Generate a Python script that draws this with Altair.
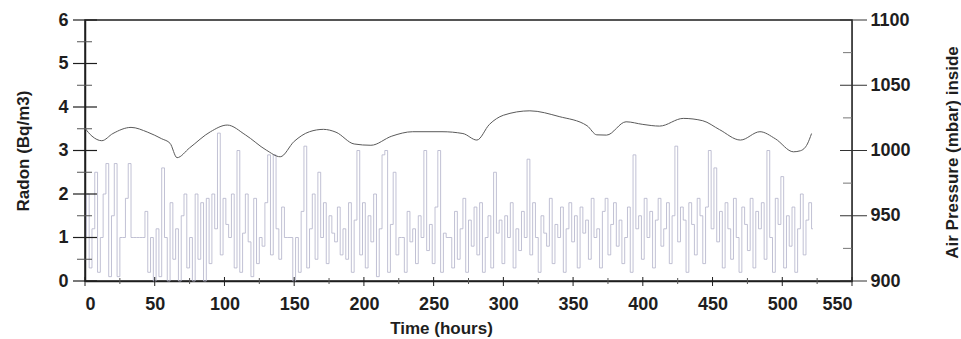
import altair as alt
import pandas as pd

# ---------------- data ----------------
RADON_T = list(range(0, 524, 2))  # hours
RADON = [
    1.0, 2.0, 0.3, 1.2, 2.5, 0.2, 1.0, 2.0, 2.7, 0.1,
    1.5, 2.7, 0.1, 1.0, 1.0, 1.9, 2.7, 1.0, 1.0, 1.0,
    1.0, 1.0, 1.6, 0.2, 1.0, 0.0, 1.2, 0.1, 2.6, 1.0,
    0.0, 1.8, 0.5, 1.2, 0.0, 1.5, 2.0, 0.3, 1.0, 0.0,
    2.0, 0.5, 1.8, 0.0, 1.9, 0.4, 2.0, 1.2, 3.4, 0.6,
    1.9, 1.3, 1.0, 2.0, 0.3, 3.0, 0.2, 1.1, 2.0, 0.9,
    0.1, 1.9, 0.4, 1.0, 0.8, 1.8, 2.9, 0.6, 2.9, 1.2,
    0.5, 1.7, 1.0, 1.0, 1.0, 0.0, 1.0, 0.2, 1.6, 3.1,
    0.3, 1.2, 2.0, 0.5, 2.5, 1.0, 1.8, 0.4, 1.5, 1.1,
    0.9, 1.7, 0.6, 1.2, 0.5, 1.8, 0.2, 1.4, 3.0, 0.6,
    1.8, 0.3, 1.5, 0.9, 2.0, 0.1, 1.2, 2.9, 3.0, 0.2,
    1.3, 2.5, 0.6, 1.0, 1.0, 0.2, 1.6, 0.9, 1.2, 0.4,
    1.5, 1.0, 3.0, 0.7, 1.3, 0.4, 1.7, 3.0, 0.2, 1.1,
    1.0, 1.0, 0.3, 1.6, 0.5, 1.2, 1.9, 0.2, 1.4, 0.8,
    1.7, 0.6, 1.8, 0.2, 1.0, 1.5, 0.3, 2.5, 1.1, 1.4,
    0.4, 1.5, 1.0, 1.8, 0.3, 1.2, 0.7, 1.6, 1.0, 2.8,
    0.6, 1.8, 1.0, 0.2, 1.5, 1.1, 0.8, 1.9, 0.4, 1.3,
    1.0, 1.7, 0.2, 1.2, 1.8, 0.9, 1.5, 0.3, 1.7, 1.1,
    1.4, 0.5, 1.9, 1.0, 1.2, 0.3, 1.6, 1.9, 0.6, 1.3,
    1.8, 0.8, 1.4, 0.4, 1.0, 1.7, 0.2, 2.9, 1.2, 1.5,
    0.5, 1.9, 1.0, 1.6, 0.3, 1.4, 1.9, 0.8, 1.2, 1.8,
    0.4, 1.5, 3.1, 0.9, 1.7, 1.4, 0.2, 1.8, 1.3, 0.6,
    1.9, 1.5, 0.4, 1.7, 3.0, 1.2, 2.6, 0.9, 1.6, 0.3,
    1.8, 1.2, 0.5, 1.9, 1.0, 0.2, 1.7, 1.3, 0.7, 1.9,
    0.3, 1.6, 1.2, 1.8, 0.5, 3.0, 1.0, 0.2, 1.9, 1.3,
    2.4, 0.3, 1.5, 0.8, 1.7, 0.2, 1.2, 2.0, 0.6, 1.4,
    1.8, 1.2,
]

PRESS_T = [0, 5, 12, 20, 33, 45, 55, 61, 66, 75, 90, 102, 115, 130, 140, 150,
           161, 171, 180, 193, 205, 220, 235, 256, 271, 281, 290, 300, 319, 340,
           360, 367, 374, 388, 400, 412, 429, 443, 455, 470, 484, 495, 508, 513,
           518, 521]
PRESS = [1017, 1011, 1007.5, 1013, 1017.7, 1014, 1009, 1005.5, 994.5, 1002,
         1014.4, 1019.5, 1012, 1000.3, 995.2, 1007, 1014.4, 1016.2, 1014, 1005,
         1004, 1011, 1014.4, 1014.4, 1013, 1008, 1020, 1027, 1030.4, 1026,
         1019, 1012, 1011.8, 1022, 1020, 1018.7, 1024.6, 1022.8, 1016, 1008,
         1014.4, 1009, 999, 999.8, 1005, 1013]

X_TICKS = list(range(0, 551, 50))
X_MINOR = list(range(25, 551, 50))
LEFT_TICKS = [0, 1, 2, 3, 4, 5, 6]
LEFT_MINOR = [0.5, 1.5, 2.5, 3.5, 4.5, 5.5]
RIGHT_TICKS = [900, 950, 1000, 1050, 1100]
RIGHT_MINOR = [925, 975, 1025, 1075]

# ---------------- layout / style ----------------
W, H = 767, 261
FONT = "Liberation Sans"
INK = "#1e1e1e"
LBL = 18

radon_df = pd.DataFrame({"t": RADON_T, "radon": RADON})
press_df = pd.DataFrame({"t": PRESS_T, "p": PRESS})

xscale = alt.Scale(domain=[0, 550], nice=False, zero=False)
yl_scale = alt.Scale(domain=[0, 6], nice=False)
yr_scale = alt.Scale(domain=[900, 1100], nice=False, zero=False)

x_axis = alt.Axis(values=X_TICKS, ticks=False, grid=False, labelPadding=14,
                  labelFontSize=LBL, labelFontWeight="bold", labelFont=FONT,
                  labelColor=INK, domainColor=INK, domainWidth=1.5, format="d",
                  title="Time (hours)", titleFont=FONT, titleFontSize=17,
                  titleFontWeight="bold", titleColor=INK,
                  titleX=356, titleY=47, titleBaseline="middle", titleAlign="center")

left_axis = alt.Axis(values=LEFT_TICKS, ticks=False, grid=False, format="d",
                     labelPadding=17, labelFontSize=LBL, labelFontWeight="bold",
                     labelFont=FONT, labelColor=INK, domainColor=INK,
                     domainWidth=1.5, title="Radon (Bq/m3)", titleFont=FONT,
                     titleFontSize=17, titleFontWeight="bold", titleColor=INK,
                     titleAngle=270, titleX=-62, titleY=H / 2,
                     titleBaseline="middle", titleAlign="center")

right_axis = alt.Axis(orient="right", values=RIGHT_TICKS, ticks=False, grid=False,
                      format="d",
                      labelPadding=18, labelFontSize=LBL, labelFontWeight="bold",
                      labelFont=FONT, labelColor=INK, domainColor="#444",
                      domainWidth=1, title="Air Pressure (mbar) inside",
                      titleFont=FONT, titleFontSize=17, titleFontWeight="bold",
                      titleColor=INK, titleAngle=270, titleX=100, titleY=132,
                      titleBaseline="middle", titleAlign="center")

radon_line = alt.Chart(radon_df).mark_line(
    color="#b2b2ca", strokeWidth=0.85, opacity=0.95, interpolate="step"
).encode(
    x=alt.X("t:Q", scale=xscale, axis=x_axis),
    y=alt.Y("radon:Q", scale=yl_scale, axis=left_axis),
)

left_major = alt.Chart(pd.DataFrame({"radon": LEFT_TICKS})).mark_rule(
    color=INK, strokeWidth=1.2).encode(
    y=alt.Y("radon:Q", scale=yl_scale, axis=left_axis),
    x=alt.value(-12), x2=alt.value(12))
left_minor = alt.Chart(pd.DataFrame({"radon": LEFT_MINOR})).mark_rule(
    color="#555", strokeWidth=1).encode(
    y=alt.Y("radon:Q", scale=yl_scale, axis=left_axis),
    x=alt.value(-8), x2=alt.value(7))
x_major = alt.Chart(pd.DataFrame({"t": X_TICKS})).mark_rule(
    color=INK, strokeWidth=1).encode(
    x=alt.X("t:Q", scale=xscale, axis=x_axis),
    y=alt.value(H - 4), y2=alt.value(H + 5))
x_minor = alt.Chart(pd.DataFrame({"t": X_MINOR})).mark_rule(
    color="#555", strokeWidth=1).encode(
    x=alt.X("t:Q", scale=xscale, axis=x_axis),
    y=alt.value(H - 3), y2=alt.value(H + 3))

left = alt.layer(radon_line, left_major, left_minor, x_major, x_minor)

press_line = alt.Chart(press_df).mark_line(
    color="#5a5a5a", strokeWidth=1, interpolate="monotone"
).encode(
    x=alt.X("t:Q", scale=xscale, axis=x_axis),
    y=alt.Y("p:Q", scale=yr_scale, axis=right_axis),
)
right_major = alt.Chart(pd.DataFrame({"p": RIGHT_TICKS})).mark_rule(
    color="#333", strokeWidth=1).encode(
    y=alt.Y("p:Q", scale=yr_scale, axis=right_axis),
    x=alt.value(W - 12), x2=alt.value(W + 15))
right_minor = alt.Chart(pd.DataFrame({"p": RIGHT_MINOR})).mark_rule(
    color="#777", strokeWidth=1).encode(
    y=alt.Y("p:Q", scale=yr_scale, axis=right_axis),
    x=alt.value(W - 9), x2=alt.value(W))

right = alt.layer(press_line, right_major, right_minor)

chart = alt.layer(left, right).resolve_scale(y="independent").properties(
    width=W, height=H,
    autosize=alt.AutoSizeParams(type="none"),
    padding={"left": 85, "top": 20, "right": 109, "bottom": 58},
    background="white",
).configure_view(stroke=INK, strokeWidth=1.5)

chart.save("out.html", embed_options={"renderer": "svg", "actions": False})
